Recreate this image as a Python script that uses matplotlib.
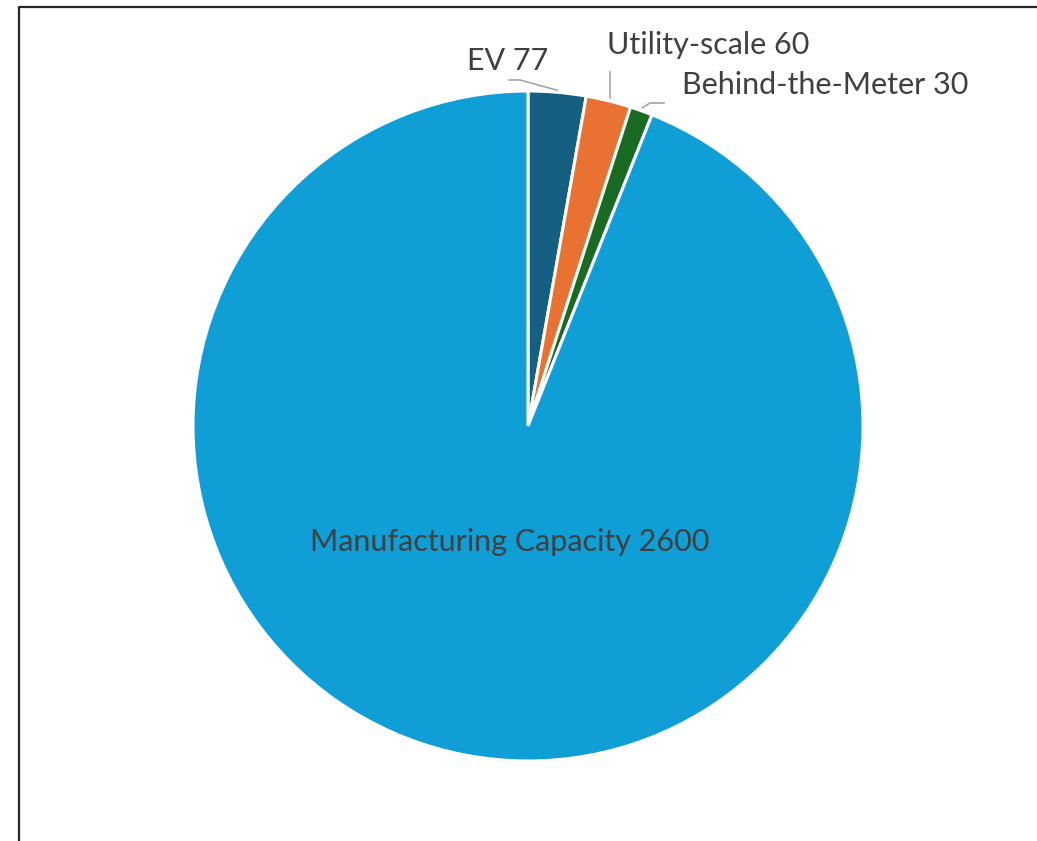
import numpy as np
import matplotlib
matplotlib.use('Agg')
import matplotlib.pyplot as plt
from matplotlib.lines import Line2D

plt.rcParams['font.family'] = ['Lato', 'DejaVu Sans']

# data
labels = ['EV', 'Utility-scale', 'Behind-the-Meter', 'Manufacturing Capacity']
values = [77, 60, 30, 2600]
colors = ['#156082', '#E97132', '#196B24', '#0F9ED5']

W, H = 1037, 841
fig = plt.figure(figsize=(W / 100, H / 100), dpi=100)
ax = fig.add_axes([0, 0, 1, 1])

cx, cy, r = 528, H - 426, 335
wedges, _ = ax.pie(values, colors=colors, startangle=90, counterclock=False,
                   center=(cx, cy), radius=r, frame=True,
                   wedgeprops=dict(edgecolor='white', linewidth=2.2))
ax.set_xlim(0, W)
ax.set_ylim(0, H)
ax.set_aspect('equal')
ax.axis('off')

txt = '#404040'
line_c = '#A6A6A6'
fs = 22

# angles of slice midpoints
total = sum(values)
start = 90.0
mids = []
for v in values:
    span = 360.0 * v / total
    mids.append(start - span / 2)
    start -= span


def edge(i):
    a = np.radians(mids[i])
    return cx + r * np.cos(a), cy + r * np.sin(a)


# EV label
x0, y0 = edge(0)
ax.plot([x0, 520, 509], [y0 + 2, H - 80, H - 80], color=line_c, lw=1.2)
ax.text(548, H - 61, f'{labels[0]} {values[0]}', ha='right', va='center',
        fontsize=fs, color=txt)

# Utility-scale label
x1, y1 = edge(1)
ax.plot([x1 + 1, x1 + 1], [y1 + 3, H - 72], color=line_c, lw=1.2)
ax.text(607, H - 45, f'{labels[1]} {values[1]}', ha='left', va='center',
        fontsize=fs, color=txt)

# Behind-the-Meter label
x2, y2 = edge(2)
ax.plot([x2 + 1, 650, 664], [y2 + 3, H - 103, H - 103], color=line_c, lw=1.2)
ax.text(682, H - 85, f'{labels[2]} {values[2]}', ha='left', va='center',
        fontsize=fs, color=txt)

# Manufacturing label
ax.text(510, H - 542, f'{labels[3]} {values[3]}', ha='center', va='center',
        fontsize=fs, color=txt)

# chart border (partially cropped)
fig.add_artist(Line2D([18.5 / W, 18.5 / W, 1.0], [0.0, 1 - 7 / H, 1 - 7 / H],
                      transform=fig.transFigure, color='#262626', lw=1.6))

fig.savefig('out.png', dpi=100)
